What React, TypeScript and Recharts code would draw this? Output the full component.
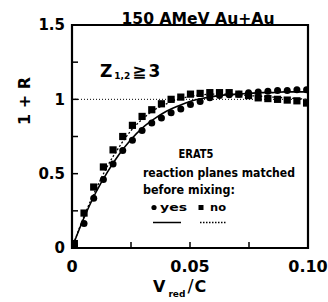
import {
    ComposedChart,
    Line,
    Scatter,
    XAxis,
    YAxis,
    ReferenceLine,
    ReferenceArea,
} from "recharts"

// v_red/c positions of the measured points
const xs = [
    0.001, 0.0051, 0.0092, 0.0133, 0.0174, 0.0215, 0.0256, 0.0297, 0.0338,
    0.0379, 0.042, 0.0461, 0.0502, 0.0543, 0.0584, 0.0625, 0.0666, 0.0707,
    0.0748, 0.0789, 0.083, 0.0871, 0.0912, 0.0953, 0.0994,
]
// reaction planes matched before mixing: yes (circles)
const yesVals = [
    0.02, 0.165, 0.335, 0.46, 0.565, 0.655, 0.725, 0.79, 0.84, 0.875, 0.91,
    0.935, 0.965, 0.985, 1.01, 1.025, 1.03, 1.035, 1.045, 1.05, 1.055, 1.06,
    1.06, 1.065, 1.065,
]
// reaction planes matched before mixing: no (squares)
const noVals = [
    0.03, 0.235, 0.41, 0.545, 0.66, 0.75, 0.825, 0.885, 0.93, 0.97, 1.0, 1.015,
    1.035, 1.04, 1.045, 1.045, 1.045, 1.035, 1.025, 1.01, 1.005, 1.0, 0.995,
    0.99, 0.975,
]

// fitted curves
const fitXs = [
    0, 0.005, 0.01, 0.015, 0.02, 0.025, 0.03, 0.035, 0.04, 0.045, 0.05, 0.055,
    0.06, 0.065, 0.07, 0.075, 0.08, 0.085, 0.09, 0.095, 0.1,
]
const yesFit = [
    0, 0.2, 0.37, 0.51, 0.63, 0.73, 0.81, 0.87, 0.92, 0.955, 0.985, 1.005, 1.02,
    1.03, 1.035, 1.04, 1.045, 1.045, 1.05, 1.05, 1.05,
]
const noFit = [
    0, 0.21, 0.39, 0.55, 0.68, 0.79, 0.87, 0.93, 0.97, 1.0, 1.02, 1.03, 1.035,
    1.035, 1.03, 1.025, 1.02, 1.015, 1.01, 1.005, 1.0,
]

const xTicks = [0, 0.025, 0.05, 0.075, 0.1]
const xTickLabels: Record<string, string> = { "0": "0", "0.05": "0.05", "0.1": "0.10" }
const yTicks = [0, 0.25, 0.5, 0.75, 1, 1.25, 1.5]
const yTickLabels: Record<string, string> = { "0": "0", "0.5": "0.5", "1": "1", "1.5": "1.5" }

const yesPts = xs.map((x, i) => ({ x, y: yesVals[i] }))
const noPts = xs.map((x, i) => ({ x, y: noVals[i] }))
const yesFitPts = fitXs.map((x, i) => ({ x, y: yesFit[i] }))
const noFitPts = fitXs.map((x, i) => ({ x, y: noFit[i] }))

const FONT = "'DejaVu Sans', sans-serif"

const YTick = (props: any) => {
    const { x, y, payload } = props
    const label = yTickLabels[String(payload.value)]
    const ax = x + 7
    return (
        <g>
            <line x1={ax} x2={ax + 6} y1={y} y2={y} stroke="#000" strokeWidth={1.5} />
            {label && (
                <text x={x} y={y} dy="0.36em" textAnchor="end" fontSize={15} fontWeight="bold" fontFamily={FONT} fill="#000">
                    {label}
                </text>
            )}
        </g>
    )
}

const XTick = (props: any) => {
    const { x, y, payload } = props
    const label = xTickLabels[String(payload.value)]
    return (
        <g>
            <line x1={x} x2={x} y1={y} y2={y - 6} stroke="#000" strokeWidth={1.5} />
            {label && (
                <text x={x} y={y + 24} textAnchor="middle" fontSize={16} fontWeight="bold" fontFamily={FONT} fill="#000">
                    {label}
                </text>
            )}
        </g>
    )
}

const Dot = (props: any) => <circle cx={props.cx} cy={props.cy} r={3.5} fill="#000" />
const Sq = (props: any) => (
    <rect x={props.cx - 3.6} y={props.cy - 3.6} width={7.2} height={7.2} fill="#000" />
)

export default function App() {
    return (
        <div style={{ position: "absolute", left: 0, top: 0, width: 328, height: 302, background: "#fff" }}>
            <ComposedChart
                width={328}
                height={302}
                margin={{ top: 25, right: 20, bottom: 0, left: 0 }}
            >
                <XAxis
                    type="number"
                    dataKey="x"
                    domain={[0, 0.1]}
                    ticks={xTicks}
                    height={54}
                    axisLine={false}
                    tickLine={false}
                    tickSize={0}
                    tickMargin={0}
                    tick={<XTick />}
                    allowDataOverflow
                />
                <YAxis
                    type="number"
                    domain={[0, 1.5]}
                    ticks={yTicks}
                    width={72}
                    axisLine={false}
                    tickLine={false}
                    tickSize={0}
                    tickMargin={7}
                    tick={<YTick />}
                    allowDataOverflow
                />
                <ReferenceLine y={1} stroke="#000" strokeWidth={1} strokeDasharray="1 2" />
                <ReferenceArea x1={0} x2={0.1} y1={0} y2={1.5} fill="none" stroke="#000" strokeWidth={2.2} fillOpacity={0} />
                <Line data={noFitPts} dataKey="y" type="monotone" stroke="#000" strokeWidth={1.3} strokeDasharray="2 2" dot={false} isAnimationActive={false} />
                <Line data={yesFitPts} dataKey="y" type="monotone" stroke="#000" strokeWidth={1.6} dot={false} isAnimationActive={false} />
                <Scatter data={yesPts} dataKey="y" shape={<Dot />} isAnimationActive={false} />
                <Scatter data={noPts} dataKey="y" shape={<Sq />} isAnimationActive={false} />
            </ComposedChart>
            <svg
                width={328}
                height={302}
                style={{ position: "absolute", left: 0, top: 0, pointerEvents: "none" }}
                fontFamily={FONT}
            >
                <text x={198} y={24} textAnchor="middle" fontSize={15} fontWeight="bold" fill="#000" textLength={153} lengthAdjust="spacingAndGlyphs">
                    150 AMeV Au+Au
                </text>
                <text x={100} y={77} fontSize={17} fontWeight="bold" fill="#000">
                    Z<tspan fontSize={9} dx={2} dy={2}>1,2</tspan>
                    <tspan dx={2} dy={-2}>≧</tspan>
                    <tspan dx={2}>3</tspan>
                </text>
                <text x={24} y={101} transform="rotate(-90 24 101)" textAnchor="middle" dy="0.36em" fontSize={16} fontWeight="bold" fill="#000">
                    1 + R
                </text>
                <text x={153} y={292} fontSize={16} fontWeight="bold" fill="#000">
                    V<tspan fontSize={9} dx={3} dy={5}>red</tspan>
                    <tspan dx={2} dy={-5} fontSize={18} fontWeight="normal">/</tspan>
                    <tspan dx={1}>C</tspan>
                </text>
                <g fontWeight="bold" fill="#000">
                    <text x={196} y={158} textAnchor="middle" fontSize={13} textLength={35} lengthAdjust="spacingAndGlyphs">
                        ERAT5
                    </text>
                    <text x={143} y={177} fontSize={12} textLength={152} lengthAdjust="spacingAndGlyphs">
                        reaction planes matched
                    </text>
                    <text x={143} y={194} fontSize={12} textLength={92} lengthAdjust="spacingAndGlyphs">
                        before mixing:
                    </text>
                    <circle cx={154} cy={207.5} r={2.6} />
                    <text x={160} y={211} fontSize={11} textLength={27} lengthAdjust="spacingAndGlyphs">
                        yes
                    </text>
                    <rect x={198.5} y={205} width={5} height={5} />
                    <text x={210} y={211} fontSize={11} textLength={16} lengthAdjust="spacingAndGlyphs">
                        no
                    </text>
                </g>
                <line x1={153} x2={181} y1={222.5} y2={222.5} stroke="#000" strokeWidth={1.5} />
                <line x1={200} x2={226} y1={222.5} y2={222.5} stroke="#000" strokeWidth={1.5} strokeDasharray="1.5 1.5" />
            </svg>
        </div>
    )
}
